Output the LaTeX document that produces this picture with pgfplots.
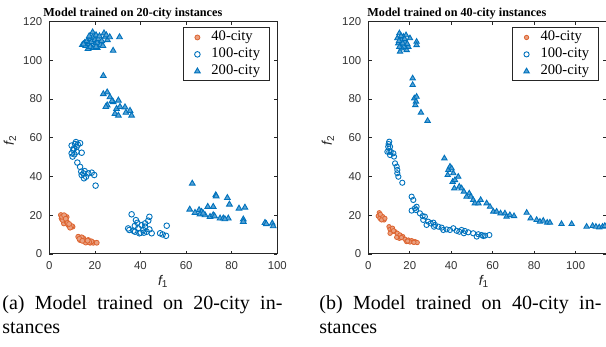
\documentclass[border=0pt]{standalone}
\usepackage{fontspec}
\setmainfont{Liberation Serif}
\setsansfont{Liberation Sans}
\usepackage{pgfplots}
\pgfplotsset{compat=1.18}
\definecolor{mblue}{HTML}{0072BD}
\definecolor{morange}{HTML}{D95319}
\pgfplotsset{
 myaxis/.style={
  scale only axis, height=116.2pt, ymin=0, ymax=120, ytick={0,20,...,120},
  axis line style={black!85, line width=0.5pt},
  tick style={black!85, line width=0.4pt},
  tick align=inside, major tick length=1.7pt,
  /pgf/number format/assume math mode=true,
  tick label style={font=\sffamily\fontsize{5.7}{6.5}\selectfont, text=black!80},
  legend cell align=left,
  legend style={font=\fontsize{7.3}{8}\selectfont, draw=black!85, line width=0.5pt,
     inner xsep=4pt, inner ysep=1.1pt, row sep=1.1pt,
     nodes={inner sep=0.5pt, text depth=0.15em},
     anchor=north west},
 },
 limg/.style={legend image code/.code={\path[draw=none,fill=none] (0pt,0pt) -- (9.5pt,0pt); \draw[##1] plot coordinates {(3pt,0pt)};}},
 s40/.style={only marks, limg, mark=*, mark size=1.25pt, mark options={draw=morange!90!white, fill=morange!55!white, line width=0.4pt}},
 s100/.style={only marks, limg, mark=o, mark size=1.4pt, mark options={draw=mblue, line width=0.45pt}},
 s200/.style={only marks, limg, mark=triangle*, mark size=1.65pt, mark options={draw=mblue, fill=mblue!65!white, line width=0.45pt}},
}
\begin{document}
\begin{tikzpicture}
\useasboundingbox (0,0) rectangle (303pt,173.5pt);
% ---------- left axis ----------
\begin{axis}[myaxis, at={(24.65pt,46.5pt)}, anchor=south west, width=114pt,
  xmin=0, xmax=100, xtick={0,20,...,100},
  legend style={at={(rel axis cs:0.586,0.975)}}]
\addplot[s40] coordinates {(5.1,20.1)(6.1,19.6)(5.4,18.4)(6.9,17.6)(6.4,15.8)(7.6,16.7)(8.3,15.0)(9.1,14.1)(10.2,14.1)(7.6,19.1)(5.8,17.6)(6.9,18.9)(9.8,14.4)(9.1,13.6)(5.6,19.2)(6.5,20.0)(7.2,18.2)(8.0,16.0)(8.7,15.5)
(12.7,8.9)(13.5,7.2)(14.9,8.1)(16.4,6.3)(17.9,5.8)(19.3,5.8)(20.8,5.8)(17.1,7.2)(14.2,8.6)(13.2,7.8)(15.5,7.0)(16.0,5.9)(18.5,6.5)(17.5,6.2)(14.5,6.8)(16.8,6.9)};
\addlegendentry{40-city}
\addplot[s100] coordinates {(9.8,56)(11.3,56.8)(13.5,57.2)(10.8,54.5)(12,55.4)(9.8,52)(12,52.8)(10.2,50.3)(14.2,52.3)(12.3,47.2)(13.5,45)(14,42.5)(15,41.6)(17.1,41.6)(16.1,39.9)(14.2,40.8)(15.2,39.1)(18.6,42)(19.7,40.8)(20.3,35.3)(11.7,57.8)(10.5,53.7)(11.0,51.5)(12.5,56.5)(15.5,42.8)
(36.1,20.5)(38,17.5)(38.6,16.1)(34.6,13.2)(35.1,12.4)(37.6,11.5)(39,13.2)(40.5,14.9)(42,15.8)(43.9,19.2)(43.4,17.2)(41.2,12.4)(42.7,11.5)(43.9,12.7)(44.9,10.7)(40.1,11)(51.5,14.6)(48.6,10.7)(49.7,10.1)(51.2,9.4)(36.9,12)(39.5,10.7)(42,14.1)(37.5,14.5)(41.5,11.0)};
\addlegendentry{100-city}
\addplot[s200] coordinates {(14.5,108)(15.5,109)(16,107.5)(16.5,110)(17,106)(17.5,108.5)(18,111)(18,107)(18.5,109.5)(19,112)(19,114.5)(19.5,106.5)(20,110.5)(20,108)(20.5,113)(21,109)(21,106.5)(21.5,111)(22,112.5)(22.5,108)(23,110)(23.5,107.5)(24,114)(24.5,112)(25,113)(25.5,110.5)(26.5,112)(28,105)(30.8,112)(15,108.3)(17.5,112.5)(20.5,107)
(23.7,92)(23.7,82.6)(25.4,83.5)(26.6,81)(25.4,76.8)(28,78.5)(30.3,79.3)(29.5,75)(28.8,72.4)(30.3,71.5)(33.2,75.8)(33.6,73)(35.4,74)(36.1,71.5)(24.8,76)(27.5,79)(31,76)
(62.7,36.4)(73,30.4)(78.1,29)(79,25.6)(61.6,23)(65.7,22.7)(66.8,21.8)(63.9,21.3)(69.5,24.4)(71.9,24.4)(66.1,20.5)(68.3,20.1)(70.5,19.2)(71.9,20.1)(74.9,18.4)(76.3,18.4)(78.5,18.4)(83.2,23.5)(85.8,24)(85.1,17.9)(85.1,16.7)(94.6,16.1)(97.8,15.8)(98.2,14.4)(73.2,29.8)(67.5,21)(72.5,19.5)(77,18)(95.2,15.5)};
\addlegendentry{200-city}
\end{axis}
% ---------- right axis ----------
\begin{axis}[myaxis, at={(184.15pt,46.5pt)}, anchor=south west, width=119.2pt,
  xmin=0, xmax=115, xtick={0,20,...,100},
  legend style={at={(rel axis cs:0.603,0.975)}}]
\addplot[s40, mark size=1.1pt] coordinates {(5.3,21.3)(4.8,19.6)(5.6,18.4)(6.9,19.3)(7.6,17.6)(6.4,17.6)(8,18.4)(10,14.1)(10.5,12.7)(11.3,11.5)(11.7,13.3)(12.9,11.5)(14,10.7)(15.3,9.8)(15,8.1)(16.6,9)(17.7,7.6)(19.3,7.2)(20.9,6.9)(22.5,6.4)(23.6,5.9)(10.5,10.7)(13.7,8.6)(18.5,6.4)(20.1,6.2)(21.7,6.2)(12.2,12.0)(16.0,8.5)(19.0,6.7)(22.0,6.0)(5.8,20.5)};
\addlegendentry{40-city}
\addplot[s100, mark size=1.3pt] coordinates {(10.1,58)(10.5,55.4)(9.2,52.8)(10.8,52.8)(9.6,55.4)(10.5,51.1)(12.1,52)(12.4,50.3)(12.9,46.8)(13.7,45.1)(14,43.4)(14,41.7)(14.5,39.9)(16.4,36.8)(10.1,52.8)(9.8,56.8)
(20.9,29.6)(21.7,27.9)(20.9,22.4)(22.5,23.6)(23,22.7)(23.3,24.4)(24.9,21)(26.2,19.6)(27.3,19.3)(26.5,17.6)(28.9,16.7)(30.1,15.8)(31.4,16.2)(32.2,15)(33.8,14.1)(35.4,13.6)(37.8,12.7)(39.4,12.4)(41,13.3)(42.6,12)(45,12.4)(46.6,11.9)(48.2,11.2)(50.6,10.7)(53.1,10.2)(54.7,9.8)(56.3,9.5)(58.4,9.8)(28.1,15)(31.7,14.1)(36.2,12.4)(43.9,11.5)(55.5,9.3)(52.3,9.0)(46.1,10.7)};
\addlegendentry{100-city}
\addplot[s200, mark size=1.55pt] coordinates {(15,114)(14.5,108.8)(15.3,104.5)(16.9,112.2)(18.2,113)(20.1,111.4)(19.3,107)(18.5,105.3)(23.3,109.6)(23.3,107.9)(14,111.4)(16.1,110.5)(17.2,107)(16.1,106.2)(17.7,109.6)(15,107)(16.6,108.8)(14.8,110)(15.8,112.5)(17.5,111)(18.8,108.5)
(21.4,90.7)(21.4,87.3)(22.2,80.4)(23.3,81.2)(23,78.7)(22.7,76.9)(25.4,73)(28.6,68.8)
(36.7,49.4)(38.6,43.4)(39.4,45.1)(40.2,44.2)(38.3,40.8)(41,41.7)(40.7,37.3)(41.8,38.2)(43.4,39.9)(41.5,33.9)(43.9,34.8)(45,33.9)(46.1,32.2)(47.4,29.6)(48.7,31.3)(49.5,29.6)(50.6,27.9)(51.4,26.2)(53.1,26.2)(54.2,27.9)(57.1,26.2)(58.7,24.4)(60.3,21.9)(61.9,21.9)(63.8,21)(65.9,21)(66.7,19.3)(68.3,20.1)(70.3,19.6)(76.4,21.3)(78.3,18.4)(81.2,17.6)(82.8,16.7)(84.4,17.2)(86.3,16.2)(87.6,16.2)(93.2,15.5)(98.1,15.5)(105.3,14.1)(108.2,14.5)(109.8,14.1)(111.4,13.8)(113,14.1)(114.1,14.5)};
\addlegendentry{200-city}
\end{axis}
% ---------- texts ----------
\node[anchor=base west, inner sep=0, font=\bfseries\fontsize{6.1}{7}\selectfont] at (21.5pt,165.2pt) {Model trained on 20-city instances};
\node[anchor=base west, inner sep=0, font=\bfseries\fontsize{6.1}{7}\selectfont] at (183.5pt,165.2pt) {Model trained on 40-city instances};
\node[inner sep=0, font=\sffamily\fontsize{7}{8}\selectfont, text=black!85] at (81.65pt,33pt) {\itshape f\textsubscript{\upshape 1}};
\node[inner sep=0, font=\sffamily\fontsize{7}{8}\selectfont, text=black!85] at (242pt,33pt) {\itshape f\textsubscript{\upshape 1}};
\node[inner sep=0, rotate=90, font=\sffamily\fontsize{7}{8}\selectfont, text=black!85] at (5pt,103.5pt) {\itshape f\textsubscript{\upshape 2}};
\node[inner sep=0, rotate=90, font=\sffamily\fontsize{7}{8}\selectfont, text=black!85] at (164pt,103.5pt) {\itshape f\textsubscript{\upshape 2}};
\node[anchor=base west, inner sep=0, text width=140pt, align=justify, font=\fontsize{10}{12}\selectfont] at (1pt,18.5pt) {(a) Model trained on 20-city in-\linebreak stances};
\node[anchor=base west, inner sep=0, text width=141pt, align=justify, font=\fontsize{10}{12}\selectfont] at (159.5pt,18.5pt) {(b) Model trained on 40-city in-\linebreak stances};
\end{tikzpicture}
\end{document}
